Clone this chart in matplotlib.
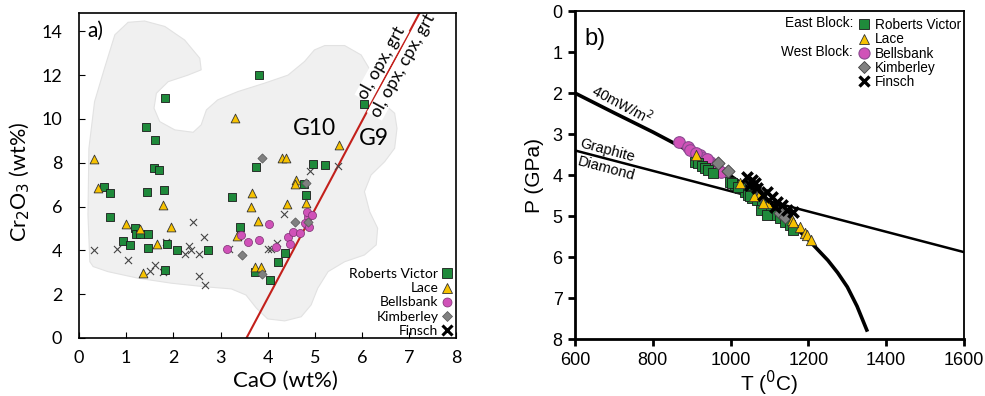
import matplotlib
matplotlib.use("Agg")
import matplotlib.pyplot as plt
from matplotlib.patches import Polygon
from matplotlib.lines import Line2D

# ---------------- panel a data (CaO vs Cr2O3, wt%) ----------------
rv_cao = [3.81, 1.82, 1.41, 1.62, 1.60, 1.69, 1.45, 1.81, 0.54, 0.65, 0.66, 1.18, 1.21, 1.29,
          1.46, 0.94, 1.08, 1.46, 1.87, 2.08, 2.73, 1.83, 3.25, 3.42, 3.76, 3.73, 4.05, 4.22,
          4.36, 4.96, 5.22, 4.76, 4.82, 6.04]
rv_cr = [12.01, 10.94, 9.63, 9.04, 7.78, 7.66, 6.68, 6.74, 6.90, 6.64, 5.51, 5.01, 4.73, 4.73,
         4.76, 4.43, 4.25, 4.12, 4.31, 4.00, 4.02, 3.11, 6.44, 5.08, 7.82, 3.00, 2.65, 3.49,
         3.90, 7.93, 7.90, 7.02, 6.53, 10.67]

lace_cao = [3.30, 0.31, 0.40, 1.77, 1.00, 1.29, 1.94, 1.66, 1.35, 4.31, 4.38, 4.60, 4.57, 3.67,
            3.64, 3.79, 3.35, 4.40, 4.82, 5.52, 3.72, 3.85]
lace_cr = [10.03, 8.17, 6.86, 6.07, 5.21, 4.99, 5.08, 4.31, 2.98, 8.23, 8.23, 7.21, 7.05, 6.61,
           5.97, 5.34, 4.66, 6.12, 6.15, 8.81, 3.26, 3.26]

bb_cao = [4.03, 3.43, 3.59, 3.81, 3.14, 4.17, 4.44, 4.53, 4.48, 4.68, 4.84, 4.85, 4.84, 4.93,
          4.80, 4.87]
bb_cr = [5.22, 4.70, 4.40, 4.46, 4.05, 4.16, 4.61, 4.82, 4.28, 4.78, 5.16, 5.54, 5.77, 5.60,
         5.27, 5.08]

kim_cao = [3.88, 4.82, 4.58, 3.45, 3.88, 4.85]
kim_cr = [8.20, 7.09, 5.31, 3.79, 2.91, 5.28]

fin_cao = [0.32, 0.81, 1.04, 2.42, 2.65, 2.34, 2.38, 2.24, 2.54, 1.62, 1.50, 1.78, 1.85, 2.54,
           2.68, 3.17, 4.00, 4.07, 4.20, 4.34, 4.89, 5.49]
fin_cr = [4.02, 4.05, 3.56, 5.31, 4.63, 4.22, 4.02, 3.82, 3.85, 3.33, 3.07, 3.00, 4.40, 2.83,
          2.40, 4.05, 4.05, 4.05, 4.34, 5.66, 7.60, 7.84]

# grey field outline
blob_cao = [0.23, 0.19, 0.21, 0.33, 0.54, 0.76, 1.04, 1.39, 1.82, 2.24, 2.56, 2.59, 2.31, 1.89,
            1.64, 1.59, 1.71, 2.03, 2.42, 2.59, 2.70, 2.94, 3.37, 3.93, 4.43, 4.78, 4.99, 5.21,
            5.63, 5.98, 6.19, 6.33, 6.69, 6.74, 6.69, 6.48, 6.19, 6.05, 6.16, 6.33, 6.30, 6.05,
            5.63, 5.28, 5.06, 4.92, 4.71, 4.36, 4.00, 3.76, 3.54, 3.23, 2.66, 1.96, 1.25, 0.61,
            0.30]
blob_cr = [3.48, 5.62, 8.66, 10.79, 12.31, 13.84, 14.41, 14.47, 14.22, 13.60, 12.77, 12.24,
           12.00, 11.70, 11.17, 10.49, 9.88, 9.50, 9.39, 9.73, 10.41, 10.87, 11.25, 11.63, 12.00,
           12.62, 13.15, 13.35, 13.35, 12.92, 12.16, 10.94, 10.26, 9.57, 8.66, 8.05, 7.44, 6.68,
           5.77, 5.01, 4.25, 3.79, 3.48, 3.03, 2.27, 1.51, 0.97, 0.78, 0.87, 1.36, 1.96, 2.24,
           2.34, 2.50, 2.73, 3.03, 3.26]

# G9/G10 divide
div_cao = [3.55, 7.22]
div_cr = [0.0, 14.85]

# ---------------- panel b data (T vs P) ----------------
geo_t = [600, 700, 800, 850, 900, 950, 1000, 1050, 1100, 1150, 1200, 1250, 1275, 1300, 1325, 1350]
geo_p = [2.0, 2.48, 2.95, 3.2, 3.45, 3.72, 4.02, 4.35, 4.72, 5.12, 5.58, 6.08, 6.38, 6.73, 7.2, 7.78]
gd_t = [600, 1600]
gd_p = [3.4, 5.88]

rv_t = [908, 916, 926, 934, 942, 955, 998, 1011, 1024, 1037, 1045, 1055, 1068, 1081, 1088,
        1101, 1114, 1127, 1140, 1153, 1160, 1003, 1018, 1049, 1078, 1093]
rv_p = [3.68, 3.71, 3.78, 3.83, 3.88, 3.95, 4.17, 4.24, 4.32, 4.41, 4.49, 4.56, 4.61, 4.73,
        4.80, 4.90, 4.98, 5.05, 5.15, 5.22, 5.34, 4.20, 4.28, 4.52, 4.85, 4.98]
lace_t = [911, 1024, 1076, 1096, 1158, 1178, 1191, 1083, 1160, 1196, 1206, 1060]
lace_p = [3.51, 4.20, 4.44, 4.68, 5.10, 5.27, 5.41, 4.68, 5.15, 5.46, 5.58, 4.50]
bb_t = [867, 890, 896, 921, 929, 947, 955, 965, 968, 975, 910, 940]
bb_p = [3.20, 3.32, 3.39, 3.51, 3.59, 3.68, 3.76, 3.83, 3.88, 3.93, 3.45, 3.62]
kim_t = [968, 993, 1076, 1127, 1140]
kim_p = [3.71, 3.90, 4.49, 4.93, 5.02]
fin_t = [1042, 1055, 1063, 1050, 1093, 1106, 1119, 1132, 1145, 1160, 1083, 1068, 1114]
fin_p = [4.05, 4.12, 4.20, 4.24, 4.41, 4.54, 4.66, 4.73, 4.85, 4.90, 4.49, 4.32, 4.78]

c_green = "#1f8a3b"
c_yellow = "#f7c200"
c_pink = "#d052b8"
c_grey = "#808080"

fig = plt.figure(figsize=(9.85, 3.96), dpi=100)

# ==========================================
# PANEL A
# ==========================================
fa = "Lato"
ax = fig.add_axes([0.0802, 0.1465, 0.3832, 0.8215])
ax.add_patch(Polygon(list(zip(blob_cao, blob_cr)), closed=True, facecolor="#f0f0f0",
                     edgecolor="#e2e2e2", lw=0.8, zorder=0))
ax.plot(div_cao, div_cr, color="#c3201b", lw=1.5, zorder=1)

ax.scatter(fin_cao, fin_cr, marker="x", s=26, color="#444444", lw=0.8, zorder=3)
ax.scatter(rv_cao, rv_cr, marker="s", s=32, facecolor=c_green, edgecolor="#1a1a1a", lw=0.6, zorder=4)
ax.scatter(lace_cao, lace_cr, marker="^", s=40, facecolor=c_yellow, edgecolor="#333333", lw=0.6, zorder=4)
ax.scatter(bb_cao, bb_cr, marker="o", s=34, facecolor=c_pink, edgecolor="#7a3070", lw=0.5, zorder=4)
ax.scatter(kim_cao, kim_cr, marker="D", s=22, facecolor=c_grey, edgecolor="#555555", lw=0.5, zorder=4)

ax.set_xlim(0, 8)
ax.set_ylim(0, 14.85)
ax.set_xticks(range(0, 9))
ax.set_yticks(range(0, 15, 2))
ax.tick_params(direction="in", length=4, width=0.8, labelsize=13)
ax.tick_params(axis="y", pad=12)
ax.tick_params(axis="x", pad=9)
for lab in ax.get_xticklabels() + ax.get_yticklabels():
    lab.set_family(fa)
for s in ax.spines.values():
    s.set_linewidth(1.2)
ax.set_xlabel("CaO (wt%)", fontsize=16, family=fa)
ax.xaxis.set_label_coords(0.546, -0.1)
ax.set_ylabel("Cr$_2$O$_3$ (wt%)", fontsize=15.5, family=fa)
ax.yaxis.set_label_coords(-0.125, 0.48)

ax.text(0.022, 0.975, "a)", transform=ax.transAxes, ha="left", va="top", fontsize=15, family=fa)
ax.text(5.0, 9.57, "G10", ha="center", va="center", fontsize=16.5, family=fa)
ax.text(6.25, 9.12, "G9", ha="center", va="center", fontsize=16.5, family=fa)
ax.text(6.42, 12.55, "ol, opx, grt", rotation=61, ha="center", va="center", fontsize=12.5,
        family=fa, bbox=dict(facecolor="white", edgecolor="none", pad=0.5), zorder=2)
ax.text(6.86, 12.45, "ol, opx, cpx, grt", rotation=61, ha="center", va="center", fontsize=12.5,
        family=fa, bbox=dict(facecolor="white", edgecolor="none", pad=0.5), zorder=2)

hand_a = [
    Line2D([], [], ls="", marker="s", ms=6.5, mfc=c_green, mec="#1a1a1a", mew=0.6),
    Line2D([], [], ls="", marker="^", ms=7, mfc=c_yellow, mec="#333333", mew=0.6),
    Line2D([], [], ls="", marker="o", ms=6.5, mfc=c_pink, mec="#7a3070", mew=0.5),
    Line2D([], [], ls="", marker="D", ms=5.5, mfc=c_grey, mec="#555555", mew=0.5),
    Line2D([], [], ls="", marker="x", ms=6.5, mec="black", mew=2.2),
]
labs = ["Roberts Victor", "Lace", "Bellsbank", "Kimberley", "Finsch"]
leg = ax.legend(hand_a, labs, loc="lower right", bbox_to_anchor=(1.015, -0.03), frameon=False,
                markerfirst=False, handlelength=0.6, handletextpad=0.3, labelspacing=0.15,
                borderpad=0.3, prop={"family": fa, "size": 10})
for t in leg.get_texts():
    t.set_ha("right")

# ==========================================
# PANEL B
# ==========================================
fb = "Liberation Sans"
bx = fig.add_axes([0.5838, 0.1439, 0.3949, 0.828])
bx.plot(gd_t, gd_p, color="black", lw=1.8, zorder=1)
bx.plot(geo_t, geo_p, color="black", lw=2.6, zorder=1)

bx.scatter(bb_t, bb_p, marker="o", s=70, facecolor=c_pink, edgecolor="#8a4a90", lw=0.8, zorder=3)
bx.scatter(rv_t, rv_p, marker="s", s=45, facecolor=c_green, edgecolor="#1a1a1a", lw=0.6, zorder=3)
bx.scatter(kim_t, kim_p, marker="D", s=45, facecolor=c_grey, edgecolor="#404040", lw=0.6, zorder=4)
bx.scatter(lace_t, lace_p, marker="^", s=55, facecolor=c_yellow, edgecolor="#333333", lw=0.6, zorder=4)
bx.scatter(fin_t, fin_p, marker="x", s=55, color="black", lw=2.6, zorder=5)

bx.set_xlim(600, 1600)
bx.set_ylim(8, 0)
bx.set_xticks(range(600, 1601, 200))
bx.set_yticks(range(0, 9))
bx.tick_params(direction="out", length=5, width=2, labelsize=13, pad=4)
for lab in bx.get_xticklabels() + bx.get_yticklabels():
    lab.set_family(fb)
for s in bx.spines.values():
    s.set_linewidth(1.3)
bx.spines["left"].set_linewidth(2)
bx.spines["bottom"].set_linewidth(2)
bx.set_xlabel("T ($^0$C)", fontsize=15, family=fb, labelpad=0)
bx.set_ylabel("P (GPa)", fontsize=15, family=fb, labelpad=6)

bx.text(0.025, 0.95, "b)", transform=bx.transAxes, ha="left", va="top", fontsize=17, family=fb)
bx.text(721, 2.27, "40mW/m$^2$", rotation=-28, ha="center", va="center", fontsize=10.5, family=fb)
bx.text(682, 3.39, "Graphite", rotation=-15, ha="center", va="center", fontsize=10.5, family=fb)
bx.text(680, 3.85, "Diamond", rotation=-15, ha="center", va="center", fontsize=10.5, family=fb)

hand_b = [
    Line2D([], [], ls="", marker="s", ms=7, mfc=c_green, mec="#1a1a1a", mew=0.6),
    Line2D([], [], ls="", marker="^", ms=7.5, mfc=c_yellow, mec="#333333", mew=0.6),
    Line2D([], [], ls="", marker="o", ms=8, mfc=c_pink, mec="#8a4a90", mew=0.8),
    Line2D([], [], ls="", marker="D", ms=6.5, mfc=c_grey, mec="#404040", mew=0.6),
    Line2D([], [], ls="", marker="x", ms=7, mec="black", mew=2.4),
]
leg_b = bx.legend(hand_b, labs, loc="upper left", bbox_to_anchor=(0.7, 1.012), frameon=False,
                  handlelength=0.8, handletextpad=0.4, labelspacing=0.02, borderpad=0.3,
                  prop={"family": fb, "size": 9.8})
bx.text(0.715, 0.963, "East Block:", transform=bx.transAxes, ha="right", va="center",
        fontsize=9.8, family=fb)
bx.text(0.715, 0.875, "West Block:", transform=bx.transAxes, ha="right", va="center",
        fontsize=9.8, family=fb)

fig.savefig("out.png", dpi=100)
